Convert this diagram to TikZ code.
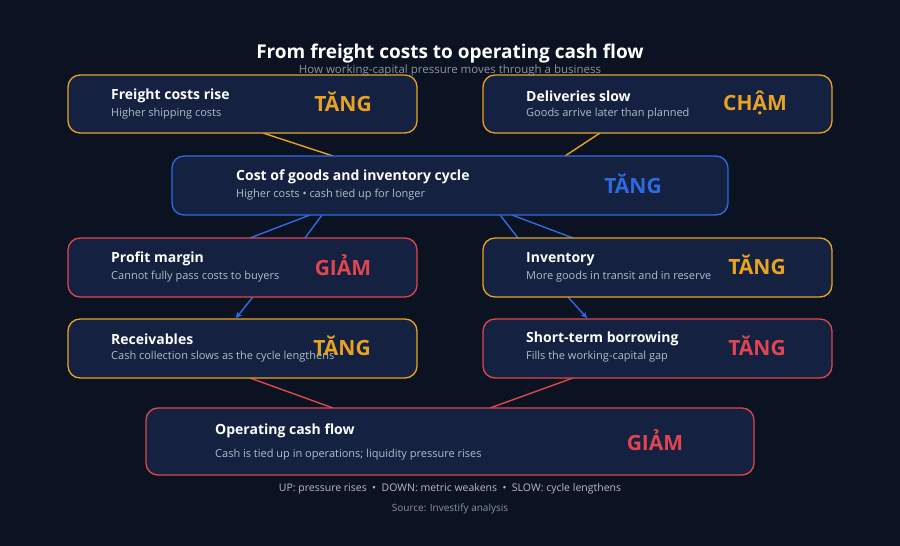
\documentclass[tikz,border=0pt]{standalone}
\usepackage{fontspec}
\setmainfont{Open Sans}
\usetikzlibrary{arrows.meta}
\definecolor{bg}{HTML}{0B1322}
\definecolor{boxfill}{HTML}{142140}
\definecolor{cor}{HTML}{E9A322}
\definecolor{cbl}{HTML}{2F6BE0}
\definecolor{cre}{HTML}{E0464F}
\definecolor{sub}{HTML}{B4BCC8}
\definecolor{foot}{HTML}{8A94A3}
\begin{document}
\begin{tikzpicture}[x=1pt,y=-1pt,
  box/.style={draw=#1,line width=1.3pt,fill=boxfill,rounded corners=12pt,inner sep=0},
  ttl/.style={anchor=west,text=white,font=\bfseries\fontsize{14}{16}\selectfont,inner sep=0},
  st/.style={anchor=west,text=sub,font=\fontsize{11}{13}\selectfont,inner sep=0},
  tag/.style={text=#1,font=\bfseries\fontsize{21}{24}\selectfont,inner sep=0},
  ln/.style={draw=#1,line width=1.4pt},
  ar/.style={draw=#1,line width=1.4pt,-{Stealth[length=6pt,width=6pt]}}]
\fill[bg] (0,0) rectangle (900,546);
\useasboundingbox (0,0) rectangle (900,546);
% connectors (under boxes)
\coordinate (c1a) at (263,133); \coordinate (c1b) at (333,156);
\coordinate (c2a) at (600,133); \coordinate (c2b) at (565,156);
\coordinate (c3a) at (310,215); \coordinate (c3b) at (250,238);
\coordinate (c4a) at (322,215); \coordinate (c4b) at (305,238);
\coordinate (c5a) at (500,215); \coordinate (c5b) at (518,238);
\coordinate (c6a) at (512,215); \coordinate (c6b) at (573,238);
\coordinate (c7a) at (253,297); \coordinate (c7b) at (236,318);
\coordinate (c8a) at (568,297); \coordinate (c8b) at (587,318);
\coordinate (c9a) at (250,378); \coordinate (c9b) at (333,408);
\coordinate (c10a) at (573,378); \coordinate (c10b) at (490,408);
\draw[ln=cor] (c1a) -- (c1b);
\draw[ln=cor] (c2a) -- (c2b);
\draw[ln=cbl] (c3a) -- (c3b);
\draw[ln=cbl] (c4a) -- (c4b);
\draw[ln=cbl] (c5a) -- (c5b);
\draw[ln=cbl] (c6a) -- (c6b);
\draw[ar=cbl] (c7a) -- (c7b);
\draw[ar=cbl] (c8a) -- (c8b);
\draw[ln=cre] (c9a) -- (c9b);
\draw[ln=cre] (c10a) -- (c10b);
% boxes
\node[box=cor,minimum width=349pt,minimum height=58pt] (fr) at (242.5,104) {};
\node[box=cor,minimum width=349pt,minimum height=58pt] (de) at (657.5,104) {};
\node[box=cbl,minimum width=556pt,minimum height=59pt] (cg) at (450,185.5) {};
\node[box=cre,minimum width=349pt,minimum height=59pt] (pm) at (242.5,267.5) {};
\node[box=cor,minimum width=349pt,minimum height=59pt] (iv) at (657.5,267.5) {};
\node[box=cor,minimum width=349pt,minimum height=59pt] (rc) at (242.5,348.5) {};
\node[box=cre,minimum width=349pt,minimum height=59pt] (sb) at (657.5,348.5) {};
\node[box=cre,minimum width=608pt,minimum height=67pt] (ocf) at (450,441.5) {};
% texts
\node[text=white,font=\bfseries\fontsize{19}{22}\selectfont,inner sep=0] (title) at (450,54) {From freight costs to operating cash flow};
\node[text=foot,font=\fontsize{11.5}{13}\selectfont,inner sep=0] (subt) at (450,71) {How working-capital pressure moves through a business};
\node[ttl] (frt) at (111,96) {Freight costs rise};
\node[st] (frs) at (111,114) {Higher shipping costs};
\node[tag=cor] (frg) at (343,102) {TĂNG};
\node[ttl] (det) at (526,96) {Deliveries slow};
\node[st] (des) at (526,114) {Goods arrive later than planned};
\node[tag=cor] (deg) at (755,103) {CHẬM};
\node[ttl] (cgt) at (236,177) {Cost of goods and inventory cycle};
\node[st] (cgs) at (236,195) {Higher costs • cash tied up for longer};
\node[tag=cbl] (cgg) at (633,184) {TĂNG};
\node[ttl] (pmt) at (111,259) {Profit margin};
\node[st] (pms) at (111,277) {Cannot fully pass costs to buyers};
\node[tag=cre] (pmg) at (343,265) {GIẢM};
\node[ttl] (ivt) at (526,259) {Inventory};
\node[st] (ivs) at (526,277) {More goods in transit and in reserve};
\node[tag=cor] (ivg) at (757,265) {TĂNG};
\node[ttl] (rct) at (111,339) {Receivables};
\node[st] (rcs) at (111,357) {Cash collection slows as the cycle lengthens};
\node[tag=cor] (rcg) at (342,346) {TĂNG};
\node[ttl] (sbt) at (526,339) {Short-term borrowing};
\node[st] (sbs) at (526,357) {Fills the working-capital gap};
\node[tag=cre] (sbg) at (757,346) {TĂNG};
\node[ttl] (ot) at (215,431) {Operating cash flow};
\node[st] (os) at (215,455) {Cash is tied up in operations; liquidity pressure rises};
\node[tag=cre] (og) at (655,440) {GIẢM};
\node[text=sub,font=\fontsize{10.5}{12}\selectfont,inner sep=0] (leg) at (450,489) {UP: pressure rises \ • \ DOWN: metric weakens \ • \ SLOW: cycle lengthens};
\node[text=foot,font=\fontsize{10}{12}\selectfont,inner sep=0] (src) at (450,509) {Source: Investify analysis};
\end{tikzpicture}
\end{document}
